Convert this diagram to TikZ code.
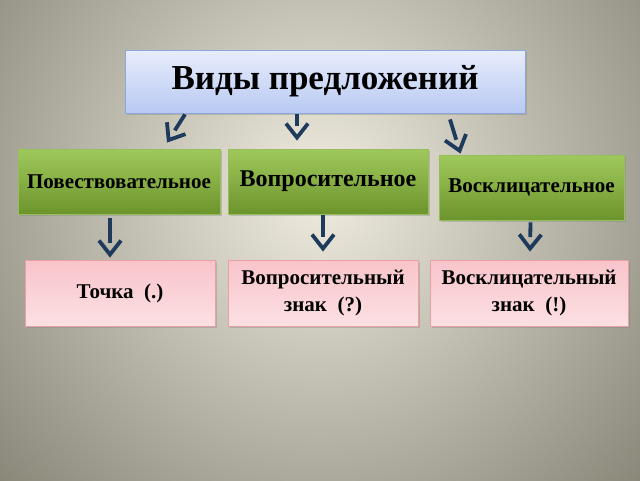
\documentclass[tikz,border=0pt]{standalone}
\usepackage{fontspec}
\setmainfont{Liberation Serif}
\usetikzlibrary{arrows.meta,shadows,decorations.markings}

\begin{document}
\begin{tikzpicture}[x=1pt,y=-1pt,
  titlebox/.style={draw=titleedge,line width=0.8pt,top color=titletop,bottom color=titlebot,
    minimum width=400pt,minimum height=63pt,inner sep=0pt,
    drop shadow={opacity=0.35,shadow xshift=2pt,shadow yshift=-2pt},
    font=\fontsize{35}{40}\selectfont\bfseries},
  kindbox/.style={draw=kindedge,line width=0.8pt,top color=kindtop,bottom color=kindbot,
    minimum height=65pt,inner sep=0pt,
    drop shadow={opacity=0.35,shadow xshift=2pt,shadow yshift=-2pt},
    font=\fontsize{21}{24}\selectfont\bfseries},
  signbox/.style={draw=signedge,line width=0.8pt,top color=signtop,bottom color=signbot,
    minimum height=66pt,inner sep=0pt,align=center,
    drop shadow={opacity=0.35,shadow xshift=2pt,shadow yshift=-2pt},
    font=\fontsize{21}{27}\selectfont\bfseries},
  arr/.style={arrowcolor,line width=3.8pt,shorten >=14.5pt,
    postaction={decorate,decoration={markings,
      mark=at position 1 with {\arrow{Straight Barb[length=14pt,width=22pt,line width=3.8pt]}}}}}]
  % Define colors
  \definecolor{bginner}{RGB}{240,237,224}
  \definecolor{bgouter}{RGB}{88,87,72}
  \definecolor{titletop}{RGB}{232,237,252}
  \definecolor{titlebot}{RGB}{184,201,242}
  \definecolor{titleedge}{RGB}{140,168,218}
  \definecolor{kindtop}{RGB}{160,201,92}
  \definecolor{kindbot}{RGB}{108,148,44}
  \definecolor{kindedge}{RGB}{150,190,90}
  \definecolor{signtop}{RGB}{248,196,202}
  \definecolor{signbot}{RGB}{252,224,227}
  \definecolor{signedge}{RGB}{232,160,168}
  \definecolor{arrowcolor}{RGB}{30,58,92}

  % Background
  \useasboundingbox (0,0) rectangle (640,480);
  \begin{scope}
    \clip (0,0) rectangle (640,480);
    \shade[inner color=bginner,outer color=bgouter] (320,190) circle (640);
  \end{scope}

  % Title
  \node[titlebox] (title) at (325,81.5) {Виды предложений};

  % Kinds of sentences (green boxes)
  \node[kindbox,minimum width=202pt] (pov) at (119,181.5) {Повествовательное};
  \node[kindbox,minimum width=200pt,font=\fontsize{24}{28}\selectfont\bfseries] (vopr) at (328,181.5) {Вопросительное};
  \node[kindbox,minimum width=185pt] (voskl) at (531.5,187.5) {Восклицательное};

  % Punctuation marks (pink boxes)
  \node[signbox,minimum width=190pt] (dot) at (120,293) {Точка\ \ (.)};
  \node[signbox,minimum width=190pt] (quest) at (323,293) {Вопросительный\\знак\ \ (?)};
  \node[signbox,minimum width=198pt] (excl) at (529,293) {Восклицательный\\знак\ \ (!)};

  % Arrows from title
  \draw[arr] ([xshift=-140pt,yshift=-1pt]title.south) -- ([xshift=48pt,yshift=6pt]pov.north);
  \draw[arr] ([xshift=-28pt,yshift=-1pt]title.south) -- ([xshift=-31pt,yshift=8pt]vopr.north);
  \draw[arr] ([xshift=125pt,yshift=-6pt]title.south) -- ([xshift=-71pt,yshift=1pt]voskl.north);

  % Arrows to punctuation marks
  \draw[arr] ([xshift=-9pt,yshift=-4pt]pov.south) -- ([xshift=-10pt,yshift=2pt]dot.north);
  \draw[arr] ([xshift=-5pt,yshift=-1pt]vopr.south) -- ([xshift=0pt,yshift=8pt]quest.north);
  \draw[arr] ([xshift=-1pt,yshift=-2pt]voskl.south) -- ([xshift=1pt,yshift=8pt]excl.north);

\end{tikzpicture}
\end{document}
